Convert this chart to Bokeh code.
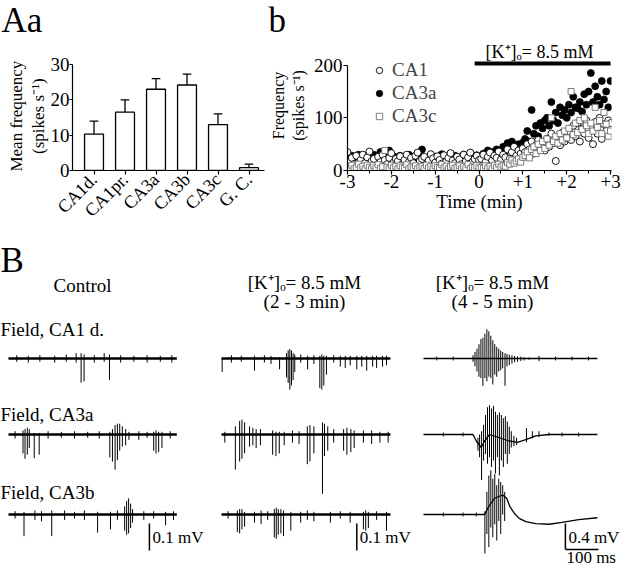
import numpy as np
from bokeh.plotting import figure
from bokeh.models import Range1d, FixedTicker, Legend, LegendItem, LinearAxis
from bokeh.layouts import column, row
from bokeh.embed import file_html
from bokeh.resources import INLINE
from bokeh.core.properties import value

FONT = "Liberation Serif"
NBSP = "\u00a0"

# ---------------- Panel Aa : mean spontaneous frequency ----------------
regions = ["CA1d.", "CA1pr.", "CA3a", "CA3b", "CA3c", "G. C."]
mean_freq = [10.3, 16.5, 23.0, 24.2, 13.0, 0.8]
sem_freq = [3.7, 3.5, 3.0, 3.1, 3.0, 1.0]

# ---------------- Panel b : frequency vs time ----------------
sample_step_min = 3 / 60
freq_ca1 = [35, 18, 24, 12, 28, 15, 20, 30, 14, 25, 36, 18, 22, 10, 26, 16, 30, 20, 12, 24,
            33, 15, 22, 18, 27, 12, 20, 30, 16, 24, 14, 28, 34, 18, 22, 26, 11, 19, 31, 23,
            15, 27, 20, 13, 29, 17, 24, 33, 19, 14, 26, 21, 12, 30, 18, 25, 34, 16, 22, 28, 20,
            22, 30, 16, 26, 34, 19, 28, 24, 36, 21, 30, 25, 40, 22, 35, 45, 28, 38, 32, 42,
            35, 50, 40, 55, 32, 48, 58, 42, 52, 38, 60, 45, 70, 52, 18, 65, 48, 72, 55, 62,
            75, 58, 85, 65, 90, 55, 80, 70, 95, 62, 85, 50, 92, 70, 100, 60, 88, 75, 95, 90]
freq_ca3a = [25, 20, 28, 18, 22, 30, 15, 25, 20, 28, 18, 24, 30, 22, 26, 35, 20, 28, 25, 38,
             22, 27, 25, 20, 28, 22, 18, 25, 30, 20, 24, 28, 22, 26, 40, 25, 18, 23, 29, 21,
             26, 19, 24, 31, 22, 17, 27, 23, 20, 28, 24, 19, 26, 30, 21, 25, 18, 27, 23, 29, 22,
             25, 32, 22, 38, 28, 35, 30, 40, 26, 36, 45, 38, 52, 42, 55, 48, 40, 50, 44, 53,
             60, 75, 55, 115, 70, 85, 65, 90, 80, 95, 100, 85, 130, 95, 110, 90, 120, 105, 115, 100,
             125, 110, 140, 120, 118, 130, 112, 145, 125, 150, 185, 130, 160, 140, 125, 170, 135, 150, 120, 170]
freq_ca3c = [8, 4, 10, 3, 6, 12, 5, 8, 3, 10, 6, 3, 9, 5, 11, 4, 7, 38, 6, 3,
             10, 5, 8, 3, 9, 6, 4, 11, 3, 7, 5, 9, 3, 6, 8, 4, 10, 5, 7, 3,
             9, 6, 4, 11, 5, 8, 3, 7, 10, 4, 6, 9, 3, 8, 5, 11, 4, 7, 6, 9, 5,
             6, 4, 9, 5, 8, 3, 10, 6, 12, 7, 10, 8, 15, 12, 20, 14, 18, 22, 16, 25,
             28, 35, 24, 40, 45, 32, 50, 38, 55, 42, 60, 48, 100, 55, 65, 52, 70, 58, 75, 62,
             80, 150, 68, 90, 72, 95, 78, 100, 85, 70, 90, 75, 120, 82, 95, 70, 110, 88, 65, 75]
k_start_min, k_end_min = -0.1, 3.0
time_ticks = [-3, -2, -1, 0, 1, 2, 3]
time_tick_labels = ["-3", "-2", "-1", "0", "+1", "+2", "+3"]

# ---------------- Panel B : field traces (ms, mV) ----------------
# each spike: (time ms from trace start, lowest mV, highest mV)
ctrl_ca1d = [(220, -0.09, 0.02), (229, -0.085, 0.015), (306, -0.08, 0.015),
             (25, -0.012, 0.012), (60, -0.015, 0.01), (95, -0.012, 0.012), (140, -0.015, 0.01),
             (175, -0.012, 0.015), (205, -0.015, 0.02), (260, -0.015, 0.012), (290, -0.012, 0.02),
             (340, -0.015, 0.012), (380, -0.012, 0.01), (420, -0.015, 0.012), (460, -0.012, 0.01),
             (495, -0.015, 0.012)]
ctrl_ca3a = [(44, -0.07, 0.015), (50, -0.09, 0.02), (57, -0.075, 0.025), (63, -0.05, 0.02),
             (78, -0.088, 0.005), (93, -0.075, 0.005),
             (307, -0.085, 0.01), (315, -0.1, 0.02), (323, -0.13, 0.035), (330, -0.095, 0.04),
             (337, -0.06, 0.04), (345, -0.045, 0.03), (355, -0.04, 0.02), (365, -0.02, 0.01),
             (440, -0.06, 0.01), (447, -0.07, 0.015), (455, -0.065, 0.01), (465, -0.05, 0.01),
             (20, -0.015, 0.012), (120, -0.015, 0.012), (160, -0.012, 0.01), (200, -0.015, 0.012),
             (240, -0.012, 0.01), (275, -0.015, 0.012), (395, -0.02, 0.012), (420, -0.012, 0.01),
             (490, -0.015, 0.012)]
ctrl_ca3b = [(47, -0.08, 0.01), (131, -0.08, 0.015), (270, -0.067, 0.01), (309, -0.055, 0.01),
             (352, -0.06, 0.03), (358, -0.075, 0.05), (364, -0.07, 0.06), (370, -0.05, 0.04),
             (376, -0.03, 0.02), (476, -0.04, 0.01),
             (20, -0.015, 0.012), (80, -0.02, 0.015), (100, -0.025, 0.012), (170, -0.02, 0.015),
             (200, -0.015, 0.01), (230, -0.02, 0.015), (330, -0.02, 0.015), (410, -0.02, 0.012),
             (440, -0.015, 0.012), (500, -0.02, 0.012)]
k23_ca1d = [(2, -0.05, 0.0), (100, -0.045, 0.01), (176, -0.04, 0.005),
            (197, -0.07, 0.02), (202, -0.09, 0.03), (207, -0.115, 0.035), (212, -0.1, 0.03),
            (217, -0.08, 0.02), (222, -0.05, 0.015), (261, -0.04, 0.01),
            (298, -0.11, 0.01), (304, -0.115, 0.015), (310, -0.1, 0.01), (318, -0.06, 0.01),
            (360, -0.03, 0.01), (375, -0.035, 0.01), (390, -0.025, 0.01), (410, -0.04, 0.01),
            (425, -0.03, 0.01), (440, -0.045, 0.01), (458, -0.03, 0.01), (470, -0.035, 0.01),
            (488, -0.03, 0.01), (500, -0.025, 0.01),
            (30, -0.015, 0.012), (60, -0.012, 0.01), (130, -0.015, 0.012), (150, -0.02, 0.01),
            (240, -0.015, 0.015), (280, -0.02, 0.012), (340, -0.015, 0.012)]
k23_ca3a = [(10, -0.03, 0.01), (42, -0.13, 0.03), (55, -0.1, 0.05), (62, -0.09, 0.055),
            (70, -0.07, 0.045), (85, -0.045, 0.03), (95, -0.04, 0.025), (105, -0.05, 0.02),
            (118, -0.04, 0.02), (155, -0.075, 0.015), (165, -0.08, 0.01), (175, -0.07, 0.01),
            (190, -0.04, 0.01), (215, -0.03, 0.015), (235, -0.035, 0.012), (260, -0.11, 0.03),
            (268, -0.1, 0.035), (280, -0.07, 0.03), (306, -0.22, 0.045), (312, -0.08, 0.04),
            (322, -0.06, 0.03), (340, -0.03, 0.02), (370, -0.06, 0.02), (380, -0.075, 0.025),
            (392, -0.065, 0.02), (402, -0.05, 0.015), (430, -0.03, 0.015), (455, -0.035, 0.015),
            (480, -0.03, 0.01), (505, -0.03, 0.01)]
k23_ca3b = [(48, -0.065, 0.015), (55, -0.07, 0.02), (62, -0.055, 0.02), (70, -0.045, 0.01),
            (100, -0.03, 0.01), (120, -0.035, 0.015), (160, -0.085, 0.02), (166, -0.09, 0.025),
            (172, -0.075, 0.02), (180, -0.07, 0.02), (188, -0.08, 0.015), (210, -0.06, 0.01),
            (240, -0.03, 0.01), (280, -0.025, 0.01), (330, -0.03, 0.01), (390, -0.03, 0.01),
            (430, -0.055, 0.01), (437, -0.06, 0.015), (445, -0.05, 0.01), (500, -0.06, 0.01),
            (20, -0.015, 0.012), (140, -0.02, 0.012), (260, -0.02, 0.015), (360, -0.015, 0.012),
            (470, -0.02, 0.012)]
k45_ca1d = [(150, -0.05, 0.05), (156, -0.12, 0.1), (162, -0.2, 0.15), (168, -0.28, 0.22),
            (174, -0.3, 0.3), (180, -0.42, 0.32), (186, -0.3, 0.38), (192, -0.35, 0.45),
            (198, -0.28, 0.42), (204, -0.3, 0.35), (210, -0.4, 0.28), (216, -0.25, 0.22),
            (222, -0.28, 0.18), (228, -0.2, 0.15), (234, -0.18, 0.12), (240, -0.15, 0.1),
            (247, -0.42, 0.08), (253, -0.12, 0.07), (260, -0.1, 0.06), (268, -0.08, 0.05),
            (276, -0.06, 0.04), (285, -0.05, 0.03), (295, -0.04, 0.03), (305, -0.03, 0.02),
            (320, -0.02, 0.015), (40, -0.03, 0.03), (90, -0.03, 0.03), (350, -0.04, 0.04),
            (400, -0.03, 0.03), (450, -0.03, 0.03), (500, -0.03, 0.03)]
k45_ca3a = [(165, -0.25, -0.05), (170, -0.35, 0.0), (176, -0.7, 0.05), (182, -0.4, 0.15),
            (188, -0.3, 0.3), (194, -0.45, 0.42), (200, -0.35, 0.45), (206, -0.5, 0.4),
            (212, -0.4, 0.44), (218, -0.6, 0.35), (224, -0.35, 0.3), (230, -0.63, 0.34),
            (236, -0.4, 0.3), (242, -0.5, 0.25), (248, -0.3, 0.28), (254, -0.45, 0.2),
            (260, -0.3, 0.12), (266, -0.2, 0.05), (274, -0.18, -0.02), (282, -0.16, -0.05),
            (312, -0.12, 0.1), (330, -0.06, 0.05), (350, -0.04, 0.05), (380, -0.02, 0.03),
            (60, -0.03, 0.03), (120, -0.03, 0.03), (420, -0.03, 0.03), (470, -0.03, 0.03)]
k45_ca3a_slow = [(0, 0), (150, 0), (160, -0.1), (175, -0.2), (185, -0.1), (200, 0.0), (230, -0.05),
                 (260, -0.1), (285, -0.12), (310, -0.08), (340, -0.02), (380, 0), (527, 0)]
k45_ca3b = [(186, -0.6, 0.05), (192, -0.3, 0.35), (198, -0.5, 0.6), (204, -0.2, 0.68),
            (210, -0.35, 0.55), (216, -0.15, 0.62), (222, -0.4, 0.45), (228, -0.1, 0.55),
            (234, -0.3, 0.5), (240, 0.0, 0.45), (246, -0.1, 0.35),
            (60, -0.03, 0.03), (120, -0.03, 0.03), (160, -0.03, 0.03)]
k45_ca3b_slow = [(0, 0), (185, 0), (195, 0.1), (215, 0.25), (240, 0.3), (252, 0.25), (262, 0.12),
                 (275, 0.02), (290, -0.06), (310, -0.11), (340, -0.14), (380, -0.15), (420, -0.12),
                 (470, -0.08), (527, -0.05)]
trace_ms = [510, 512, 527]
scale_mv = [0.1, 0.1, 0.4]
scale_ms = 100
column_titles = [["Control"], ["[K⁺]ₒ= 8.5 mM", "(2 - 3 min)"], ["[K⁺]ₒ= 8.5 mM", "(4 - 5 min)"]]
row_titles = ["Field, CA1 d.", "Field, CA3a", "Field, CA3b"]
panel_letters = ["Aa", "b"]


def style_axes(p):
    for ax in p.axis:
        ax.axis_line_width = 1.2
        ax.axis_line_color = "black"
        ax.major_tick_line_width = 1.2
        ax.major_tick_line_color = "black"
        ax.minor_tick_line_color = None
        ax.major_tick_in = 0
        ax.major_tick_out = 4
        ax.major_label_text_font = FONT
        ax.major_label_text_color = "black"
        ax.axis_label_text_font = FONT
        ax.axis_label_text_font_style = "normal"
        ax.axis_label_text_color = "black"


def add_outer_label(p, text, size, standoff):
    # label-only axis stacked outside the real y axis (first line of the axis title)
    ax = LinearAxis(axis_label=text, ticker=FixedTicker(ticks=[]), axis_line_color=None,
                    major_tick_line_color=None, minor_tick_line_color=None,
                    major_tick_out=0, major_tick_in=0, minor_tick_out=0, minor_tick_in=0,
                    major_label_standoff=0, axis_label_standoff=standoff,
                    axis_label_text_font=FONT, axis_label_text_font_size=size,
                    axis_label_text_font_style="normal", axis_label_text_color="black",
                    major_label_text_font_size="1px")
    p.add_layout(ax, "left")


# ================= top strip with panel letters (page y 8..48) =================
STRIP_H = 40
strip = figure(width=624, height=STRIP_H, x_range=Range1d(8, 632), y_range=Range1d(48, 8),
               x_axis_type=None, y_axis_type=None, min_border=0, output_backend="svg",
               toolbar_location=None)
strip.grid.visible = False
strip.outline_line_color = None
strip.text(x=[9, 276], y=[28, 28], text=panel_letters, text_font=value(FONT),
           text_font_size="35px", text_align="left", text_baseline="middle", color="black")

ROW_H = 192
BOTTOM = 62
FRAME_H = ROW_H - BOTTOM  # frame from page y 48 to 178

# ================= Panel Aa =================
pa = figure(width=266, height=ROW_H, x_range=Range1d(-0.694, 5.5),
            y_range=Range1d(0, 30 * FRAME_H / 106),
            min_border_left=72, min_border_right=2, min_border_top=0, min_border_bottom=BOTTOM,
            output_backend="svg", toolbar_location=None)
pa.grid.visible = False
pa.outline_line_color = None
idx = list(range(len(regions)))
tops = [m + s for m, s in zip(mean_freq, sem_freq)]
pa.segment(x0=idx, y0=mean_freq, x1=idx, y1=tops, color="black", line_width=1.3)
pa.segment(x0=[i - 0.14 for i in idx], y0=tops, x1=[i + 0.14 for i in idx], y1=tops,
           color="black", line_width=1.3)
pa.vbar(x=idx, top=mean_freq, width=0.61, fill_color="white", line_color="black", line_width=1.3)
style_axes(pa)
pa.yaxis.bounds = (0, 30)
pa.xaxis.ticker = FixedTicker(ticks=idx)
pa.xaxis.major_label_overrides = {i: r for i, r in zip(idx, regions)}
pa.xaxis.major_label_orientation = float(np.pi / 4)
pa.xaxis.major_label_text_font_size = "18px"
pa.xaxis.major_label_standoff = 2
pa.yaxis.ticker = FixedTicker(ticks=[0, 10, 20, 30])
pa.yaxis.major_label_text_font_size = "19px"
pa.yaxis.major_label_standoff = 0
pa.yaxis.major_tick_out = 3
pad = NBSP * 5  # centres the title on the 0-30 axis rather than on the taller frame
pa.yaxis.axis_label = "(spikes s⁻¹)" + pad
pa.yaxis.axis_label_text_font_size = "17px"
pa.yaxis.axis_label_standoff = 0
add_outer_label(pa, "Mean frequency" + pad, "17px", 0)

# ================= Panel b =================
KPX = (178 - 72.7) / 200  # px per spike/s
t_min = -3 + np.arange(len(freq_ca1)) * sample_step_min
pb = figure(width=358, height=ROW_H, x_range=Range1d(-3.0, 3.022),
            y_range=Range1d(0, FRAME_H / KPX),
            min_border_left=74, min_border_right=13, min_border_top=0, min_border_bottom=BOTTOM,
            output_backend="svg", toolbar_location=None)
pb.grid.visible = False
pb.outline_line_color = None
r_ca3a = pb.scatter(t_min, freq_ca3a, marker="circle", size=7, fill_color="black",
                    line_color="black", line_width=0.8)
r_ca1 = pb.scatter(t_min, freq_ca1, marker="circle", size=7, fill_color="white",
                   line_color="black", line_width=0.9)
r_ca3c = pb.scatter(t_min, freq_ca3c, marker="square", size=6, fill_color="white",
                    line_color="#6e6e6e", line_width=0.9)
pb.line([k_start_min, k_end_min], [(178 - 71) / KPX] * 2, line_width=4, color="black")
pb.text(x=[1.38], y=[(178 - 59) / KPX], text=["[K⁺]ₒ= 8.5 mM"], text_font=value(FONT),
        text_font_size="18px", text_align="center", text_baseline="middle", color="black")
style_axes(pb)
pb.yaxis.bounds = (0, 200)
pb.yaxis.ticker = FixedTicker(ticks=[0, 100, 200])
pb.yaxis.major_label_text_font_size = "19px"
pb.yaxis.major_label_standoff = 1
pb.yaxis.axis_label = "(spikes s⁻¹)"
pb.yaxis.axis_label_text_font_size = "16px"
pb.yaxis.axis_label_standoff = 4
pb.xaxis.ticker = FixedTicker(ticks=time_ticks, minor_ticks=[-2.5, -1.5, -0.5, 0.5, 1.5, 2.5])
pb.xaxis.minor_tick_line_color = "black"
pb.xaxis.minor_tick_out = 3
pb.xaxis.minor_tick_in = 0
pb.xaxis.major_label_overrides = {t: s for t, s in zip(time_ticks, time_tick_labels)}
pb.xaxis.major_label_text_font_size = "19px"
pb.xaxis.major_label_standoff = 0
pb.xaxis.axis_label = "Time (min)"
pb.xaxis.axis_label_text_font_size = "19px"
pb.xaxis.axis_label_standoff = 0
add_outer_label(pb, "Frequency", "16px", 0)
legend = Legend(items=[LegendItem(label="CA1", renderers=[r_ca1]),
                       LegendItem(label="CA3a", renderers=[r_ca3a]),
                       LegendItem(label="CA3c", renderers=[r_ca3c])],
                location=(24, 43), label_text_font=FONT, label_text_font_size="19px",
                label_text_line_height=1.0,
                glyph_width=16, glyph_height=20, label_height=20, label_standoff=5,
                spacing=1, padding=0, margin=0, border_line_color=None, background_fill_alpha=0)
pb.add_layout(legend)

# ================= Panel B =================
PXMS = 0.33   # px per ms
PXMV = 270.0  # px per mV (0.1 mV columns)
FIG_TOP = 8 + STRIP_H + ROW_H  # 240
FIG_H = 336


def X(px):
    return (px - 8) / PXMS


def Y(py):
    return -(py - FIG_TOP) / PXMV


pc = figure(width=624, height=FIG_H, x_range=Range1d(0, 624 / PXMS), y_range=Range1d(-FIG_H / PXMV, 0),
            x_axis_type=None, y_axis_type=None, min_border=0, output_backend="svg",
            toolbar_location=None)
pc.grid.visible = False
pc.outline_line_color = None

col_x0 = [X(16), X(229), X(431)]
row_y0 = [Y(366), Y(442), Y(522)]
col_gain = [1.0, 1.0, 26 / (0.4 * PXMV)]
trace_table = [[ctrl_ca1d, ctrl_ca3a, ctrl_ca3b],
               [k23_ca1d, k23_ca3a, k23_ca3b],
               [k45_ca1d, k45_ca3a, k45_ca3b]]
slow_table = {(2, 1): k45_ca3a_slow, (2, 2): k45_ca3b_slow}

for c in range(3):
    for r in range(3):
        x0, b, g = col_x0[c], row_y0[r], col_gain[c]
        slow = slow_table.get((c, r), [(0, 0), (trace_ms[c], 0)])
        pc.line([x0 + t for t, v in slow], [b + v * g for t, v in slow],
                line_width=2.4 if c < 2 else 1.3, color="black")
        sp = trace_table[c][r]
        xs = [x0 + s[0] for s in sp]
        pc.segment(x0=xs, y0=[b + s[1] * g for s in sp], x1=xs, y1=[b + s[2] * g for s in sp],
                   color="black", line_width=1.0)

# scale bars
bar_x_ms = [427, 410, 430]
bar_top = Y(531)
for c in range(3):
    bx = col_x0[c] + bar_x_ms[c]
    pc.line([bx, bx], [bar_top, bar_top - scale_mv[c] * col_gain[c]], color="black", line_width=1.5)
bx3 = col_x0[2] + bar_x_ms[2]
bbot = bar_top - scale_mv[2] * col_gain[2]
pc.line([bx3, bx3 + scale_ms], [bbot, bbot], color="black", line_width=1.5)
pc.text(x=[col_x0[c] + bar_x_ms[c] + 3 / PXMS for c in range(3)], y=[Y(545)] * 3,
        text=[f"{m} mV" for m in scale_mv], text_font=value(FONT), text_font_size="17px",
        text_align="left", text_baseline="middle", color="black")
pc.text(x=[bx3 + 1 / PXMS], y=[Y(565)], text=[f"{scale_ms} ms"], text_font=value(FONT),
        text_font_size="17px", text_align="left", text_baseline="middle", color="black")

# titles
pc.text(x=[X(8)], y=[Y(268)], text=["B"], text_font=value(FONT), text_font_size="35px",
        text_align="left", text_baseline="middle", color="black")
title_cx = [90, 312, 500]
for c in range(3):
    lines = column_titles[c]
    ys = [Y(293)] if len(lines) == 1 else [Y(290), Y(309)]
    pc.text(x=[X(title_cx[c])] * len(lines), y=ys, text=lines, text_font=value(FONT),
            text_font_size="19px", text_align="center", text_baseline="middle", color="black")
pc.text(x=[X(8)] * 3, y=[Y(337), Y(422), Y(500)], text=row_titles, text_font=value(FONT),
        text_font_size="19px", text_align="left", text_baseline="middle", color="black")

layout = column(strip, row(pa, pb), pc)
open("out.html", "w").write(file_html(layout, INLINE))
